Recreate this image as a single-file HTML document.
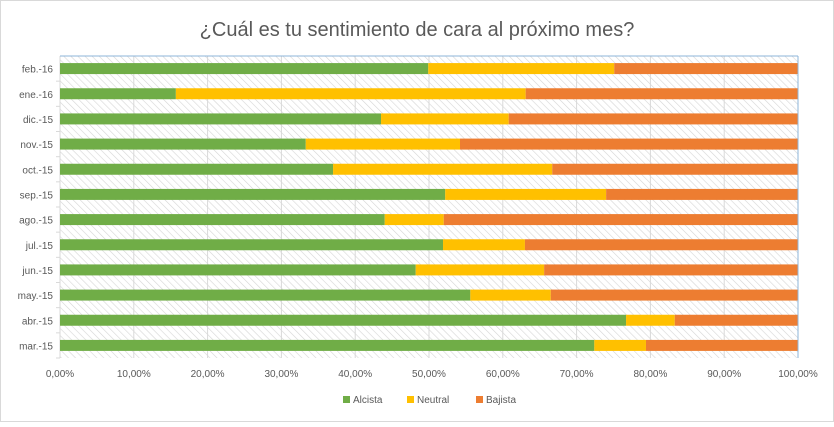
<!DOCTYPE html>
<html><head><meta charset="utf-8"><style>
body{margin:0;background:#fff;font-family:"Liberation Sans",sans-serif}
</style></head><body>
<svg id="chart" width="834" height="422">
<defs><pattern id="hatch" width="5" height="5" patternUnits="userSpaceOnUse" patternTransform="rotate(-45)"><rect width="5" height="5" fill="#fff"/><line x1="0" y1="0" x2="0" y2="5" stroke="#d6d6d6" stroke-width="1.2"/></pattern></defs>
<rect x="0.5" y="0.5" width="833" height="421" fill="#fff" stroke="#d9d9d9"/>
<text x="417" y="36" text-anchor="middle" font-size="20" fill="#595959">¿Cuál es tu sentimiento de cara al próximo mes?</text>
<g id="plot"></g>
</svg>
<script>
const categories=["mar.-15","abr.-15","may.-15","jun.-15","jul.-15","ago.-15","sep.-15","oct.-15","nov.-15","dic.-15","ene.-16","feb.-16"];
const alcista=[72.4,76.7,55.6,48.2,51.9,44.0,52.2,37.0,33.3,43.5,15.7,49.9];
const neutral=[7.0,6.6,10.9,17.4,11.1,8.0,21.8,29.7,20.9,17.3,47.4,25.2];
const bajista=[20.6,16.7,33.5,34.4,37.0,48.0,26.0,33.3,45.8,39.2,36.9,24.9];
const ticks=[0,10,20,30,40,50,60,70,80,90,100];
const seriesNames=["Alcista","Neutral","Bajista"];
const colors=["#70ad47","#ffc000","#ed7d31"];
const L=60,R=798,T=56,B=358;
const NS="http://www.w3.org/2000/svg";
const g=document.getElementById('plot');
const x=v=>L+(R-L)*v/100;
const band=(B-T)/categories.length;
const y=i=>B-band*(i+0.5);
function mk(t,a){const e=document.createElementNS(NS,t);for(const k in a)e.setAttribute(k,a[k]);g.appendChild(e);return e;}
let bg=mk('rect',{x:L,y:T,width:R-L,height:B-T,fill:'url(#hatch)'});


ticks.forEach(t=>{
 let l=mk('line',{x1:x(t),x2:x(t),y1:T,y2:B,stroke:'#d9d9d9'});
 
 
 let tx=mk('text',{x:x(t),y:377,'text-anchor':'middle','font-size':10,fill:'#595959'});
 tx.textContent=t.toFixed(2).replace('.',',')+'%';
 
 
});
categories.forEach((c,i)=>{
 let tk=mk('line',{x1:L-4,x2:L,y1:B-band*i,y2:B-band*i,stroke:'#d9d9d9'});
 
 
 let tx=mk('text',{x:L-7,y:y(i)+4,'text-anchor':'end','font-size':10,fill:'#595959'});
 tx.textContent=c;
 
 
 const vals=[alcista[i],neutral[i],bajista[i]];
 let acc=0;
 vals.forEach((v,s)=>{
  let r=mk('rect',{x:x(acc),y:y(i)-5.5,width:x(acc+v)-x(acc),height:11,fill:colors[s]});
  
  
  acc+=v;
 });
});
let topBorder=mk('line',{x1:L,x2:R,y1:T,y2:T,stroke:'#8eb4d8'});


let rightBorder=mk('line',{x1:R,x2:R,y1:T,y2:B,stroke:'#8eb4d8'});


let lx=[343,407,476];
seriesNames.forEach((n,s)=>{
 let r=mk('rect',{x:lx[s],y:396,width:7,height:7,fill:colors[s]});
 
 
 let t=mk('text',{x:lx[s]+10,y:403,'font-size':10,fill:'#595959'});
 t.textContent=n;
 
 
});
</script>
</body></html>
